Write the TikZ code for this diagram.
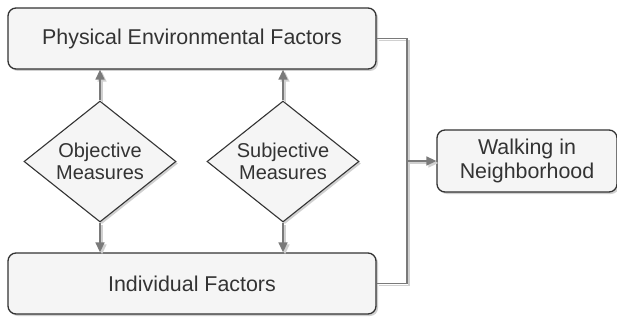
\documentclass[tikz,border=0pt]{standalone}
\usepackage{fontspec}
\setmainfont{Liberation Sans}
\usetikzlibrary{shapes.geometric,arrows.meta,shadows}
\definecolor{boxfill}{HTML}{F5F5F5}
\definecolor{boxline}{HTML}{333333}
\definecolor{conn}{HTML}{7A7A7A}
\definecolor{shade}{HTML}{D0D0D0}
\tikzset{
  every node/.style={font=\fontsize{21.4}{24}\selectfont, text=black!80},
  box/.style={draw=boxline, fill=boxfill, rounded corners=8pt, line width=1.3pt,
    drop shadow={shadow xshift=2pt, shadow yshift=-2pt, fill=shade, opacity=1},
    minimum width=368pt, minimum height=61pt, inner sep=0pt, align=center},
  dia/.style={draw=boxline, fill=boxfill, diamond, aspect=1.25, line width=1.1pt,
    drop shadow={shadow xshift=2pt, shadow yshift=-2pt, fill=shade, opacity=1},
    font=\fontsize{20}{22.5}\selectfont,
    minimum width=152pt, minimum height=121pt, inner sep=0pt, align=center},
  conn/.style={draw=conn, line width=1.4pt,
    preaction={draw=shade, line width=1.4pt, transform canvas={shift={(2pt,-2pt)}}}},
  tip/.style={-{Triangle[length=10pt,width=9pt]}}
}
\begin{document}
\begin{tikzpicture}[x=1pt,y=-1pt]
\useasboundingbox (0,0) rectangle (617,320);
\node[box] (phys) at (192,38.5) {Physical Environmental Factors};
\node[box] (ind) at (192,283.5) {Individual Factors};
\node[box, minimum width=180pt, minimum height=62pt] (walk) at (527,161) {Walking in\\Neighborhood};
\node[dia] (obj) at (100,161.5) {Objective\\Measures};
\node[dia] (subj) at (283,161.5) {Subjective\\Measures};
\coordinate (j) at (407,161);
\draw[conn, tip] (obj.north) -- (obj.north |- phys.south);
\draw[conn, tip] (subj.north) -- (subj.north |- phys.south);
\draw[conn, tip] (obj.south) -- (obj.south |- ind.north);
\draw[conn, tip] (subj.south) -- (subj.south |- ind.north);
\draw[conn] (phys.east) -| (j);
\draw[conn] (ind.east) -| (j);
\draw[conn, tip] (j) -- (walk.west);
\end{tikzpicture}
\end{document}
